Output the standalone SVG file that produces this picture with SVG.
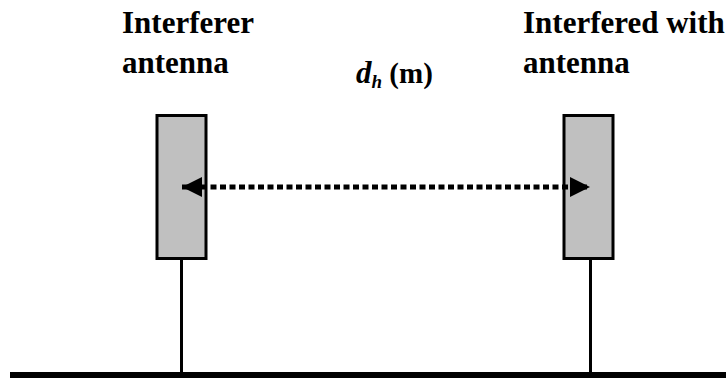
<svg xmlns="http://www.w3.org/2000/svg" width="726" height="380" viewBox="0 0 726 380">
  <style>
    .label { font-family: "Liberation Serif", "Times New Roman", serif; font-weight: bold; font-size: 31px; fill: #000; }
    .math { font-family: "Liberation Serif", "Times New Roman", serif; font-weight: bold; fill: #000; }
    .antenna { fill: #c0c0c0; stroke: #000; stroke-width: 3; }
    .mast { stroke: #000; stroke-width: 3; }
    .dist { stroke: #000; stroke-width: 5; stroke-dasharray: 6 3.5; fill: none; }
  </style>
  <defs>
    <marker id="head" viewBox="0 0 20 20" refX="20" refY="10" markerWidth="20" markerHeight="20" markerUnits="userSpaceOnUse" orient="auto-start-reverse">
      <path d="M0,0 L20,10 L0,20 Z" fill="#000"/>
    </marker>
  </defs>

  <rect width="726" height="380" fill="#fff"/>

  <!-- ground -->
  <line x1="10" y1="375" x2="726" y2="375" stroke="#000" stroke-width="6"/>

  <g id="interferer">
    <line class="mast" x1="181.5" y1="258" x2="181.5" y2="373"/>
    <rect class="antenna" x="157" y="115.5" width="49" height="143"/>
    <text class="label" x="122" y="33">Interferer</text>
    <text class="label" x="122" y="73">antenna</text>
  </g>

  <g id="victim">
    <line class="mast" x1="590.5" y1="258" x2="590.5" y2="373"/>
    <rect class="antenna" x="564" y="115.5" width="49" height="143"/>
    <text class="label" x="523" y="33">Interfered with</text>
    <text class="label" x="523" y="73">antenna</text>
  </g>

  <g id="connectors">
    <line class="dist" x1="182" y1="187" x2="590" y2="187" marker-start="url(#head)" marker-end="url(#head)"/>
    <text class="math" x="356" y="83" font-size="29"><tspan font-style="italic" font-size="31">d</tspan><tspan font-style="italic" font-size="19" dy="5">h</tspan><tspan dy="-5"> (m)</tspan></text>
  </g>
</svg>
